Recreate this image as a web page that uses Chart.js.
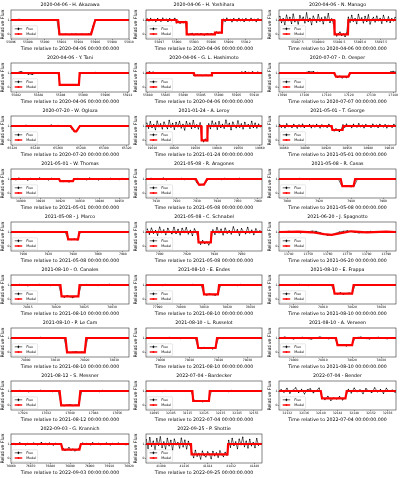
<!DOCTYPE html>
<html><head><meta charset="utf-8">
<script src="https://cdn.jsdelivr.net/npm/chart.js@4.4.0/dist/chart.umd.min.js"></script>
<style>
html,body{margin:0;padding:0;background:#fff;}
body{width:400px;height:478px;overflow:hidden;position:relative;}
canvas{position:absolute;}
</style></head><body>
<script>
const titles = [
 '2020-04-06 - H. Akazawa','2020-04-06 - H. Yoshihara','2020-04-06 - N. Manago',
 '2020-04-06 - Y. Tani','2020-04-06 - G. L. Hashimoto','2020-07-07 - D. Oesper',
 '2020-07-20 - W. Ogloza','2021-01-24 - A. Leroy','2021-05-01 - T. George',
 '2021-05-01 - W. Thomas','2021-05-08 - R. Aragones','2021-05-08 - R. Casas',
 '2021-05-08 - J. Marco','2021-05-08 - C. Schnabel','2021-06-20 - J. Spagnotto',
 '2021-08-10 - O. Canales','2021-08-10 - E. Endes','2021-08-10 - E. Frappa',
 '2021-08-10 - P. Le Cam','2021-08-10 - L. Russelot','2021-08-10 - A. Verveen',
 '2021-08-12 - S. Messner','2022-07-04 - Bardecker','2022-07-04 - Bender',
 '2022-09-03 - G. Krannich','2022-09-25 - P. Shottie'
];
const legendLabels = ['Flux','Model'];

// 01 Akazawa
const p01Ticks=['55896','55898','55900','55902','55904','55906','55908','55910'];
const p01Lim=[55896,55910]; const p01Time=[55896.2,0.25];
const p01Flux=[1.01,0.99,1.03,1.05,1.02,1.00,0.99,1.01,0.98,1.00,1.02,0.99,1.00,0.98,1.01,0.99,1.02,1.00,0.97,1.01,0.99,1.00,0.02,0.00,-0.01,0.01,0.00,-0.02,0.01,0.00,0.02,-0.01,0.00,0.01,-0.01,0.00,0.02,0.05,0.55,0.97,1.02,1.00,0.99,1.01,0.98,1.00,1.01,0.99,1.00,1.02,0.99,1.00,1.01,0.98,1.00,1.01];
const p01MT=[55896,55901.6,55901.75,55905.5,55906.0,55910]; const p01MF=[1,1,0,0,1,1];
// 02 Yoshihara
const p02Ticks=['55897','55900','55903','55906','55909','55912'];
const p02Lim=[55894.7,55914.8]; const p02Time=[55894.9,0.3];
const p02Flux=[1.08,0.93,1.12,0.96,1.05,0.89,1.10,1.01,0.92,1.14,0.97,1.06,0.90,1.09,0.95,1.03,1.11,0.80,0.93,0.78,0.88,0.82,0.90,0.05,-0.03,0.02,0.06,-0.04,0.01,0.03,-0.02,0.04,0.00,-0.05,0.02,0.05,-0.01,0.03,0.00,0.04,0.15,0.08,0.14,0.10,1.06,0.91,1.13,0.97,1.04,0.88,1.10,0.99,0.93,1.12,0.95,1.07,0.90,1.09,1.02,0.94,1.11,0.96,1.05,0.89,1.08,0.98,1.03];
const p02MT=[55894.7,55900.0,55900.0,55901.7,55901.75,55906.65,55906.65,55907.85,55907.9,55914.8]; const p02MF=[1,1,0.85,0.85,0,0,0.12,0.12,1,1];
// 03 Manago
const p03Ticks=['55887.5','55890.0','55892.5','55895.0','55897.5'];
const p03Lim=[55885.3,55899.3]; const p03Time=[55885.4,0.2];
const p03Flux=[1.25,0.82,1.10,0.70,1.35,0.95,1.18,0.76,1.42,0.88,1.05,0.72,1.30,0.98,1.20,0.80,1.50,0.90,1.12,0.68,1.28,1.02,0.85,1.38,0.92,1.15,0.74,1.22,0.96,1.45,0.83,1.08,0.78,0.10,-0.12,0.05,0.15,-0.08,0.02,-0.15,0.08,1.20,0.85,1.32,0.92,1.10,0.75,1.40,0.98,1.15,0.80,1.25,0.90,1.36,0.72,1.05,1.18,0.86,1.28,0.95,1.12,0.78,1.33,1.00,0.88,1.22,0.83,1.10,0.94,1.18];
const p03MT=[55885.3,55891.9,55891.95,55893.55,55893.6,55899.3]; const p03MF=[1,1,0,0,1,1];
// 04 Tani
const p04Ticks=['55882','55888','55894','55900','55906','55912'];
const p04Lim=[55880.6,55912.4]; const p04Time=[55880.8,0.5];
const p04Flux=[1.00,1.02,0.99,1.01,1.06,1.10,1.04,1.00,0.97,0.92,0.95,0.90,0.96,1.00,1.02,0.99,1.01,1.00,0.98,1.01,1.00,0.99,1.02,1.00,0.99,1.00,0.18,0.16,0.17,0.15,0.18,0.16,0.17,0.16,0.18,0.15,0.17,1.00,1.03,1.01,0.99,1.02,1.00,0.98,1.01,1.04,1.00,0.99,1.01,1.00,0.98,1.02,1.00,0.99,1.01,1.00,1.02,0.99,1.00,1.01,0.98,1.00,1.02,1.00];
const p04MT=[55880.6,55893.5,55893.7,55898.9,55899.1,55912.4]; const p04MF=[1,1,0.17,0.17,1,1];
// 05 Hashimoto
const p05Ticks=['55880','55885','55890','55895','55900','55905','55910'];
const p05Lim=[55879.5,55912.2]; const p05Time=[55879.5,0.5];
const p05Flux=[1.00,1.04,1.08,1.02,1.06,0.99,1.00,1.01,0.99,1.00,1.02,1.00,0.99,1.01,1.00,0.98,1.01,1.00,1.02,0.99,1.00,1.01,0.99,1.00,1.01,1.00,0.99,0.84,0.82,0.85,0.83,0.84,0.82,0.83,0.85,0.82,0.84,0.86,1.00,1.01,0.99,1.00,1.02,1.00,0.99,1.01,1.00,0.99,1.01,1.00,1.03,1.00,0.99,1.02,1.07,1.03,1.09,1.02,1.05,1.00,1.08,1.03,1.00,1.06,1.02,1.00];
const p05MT=[55879.5,55893.0,55893.2,55897.9,55898.1,55912.2]; const p05MF=[1,1,0.83,0.83,1,1];
// 06 Oesper
const p06Ticks=['17090','17100','17110','17120','17130','17140'];
const p06Lim=[17088.5,17141.3]; const p06Time=[17089,1];
const p06Flux=[1.00,1.02,0.98,1.01,0.99,1.03,1.00,0.97,1.02,1.00,1.01,0.99,1.05,1.10,1.07,1.09,1.02,1.04,0.99,1.01,1.00,0.98,1.02,1.00,0.99,0.76,0.70,0.78,0.66,0.74,0.68,0.77,1.00,1.02,0.99,1.01,1.00,1.03,0.98,1.00,1.02,0.99,1.01,1.00,0.97,1.02,1.00,0.99,1.03,1.01,1.08,1.12,1.06];
const p06MT=[17088.5,17113.5,17114.2,17119.8,17120.5,17141.3]; const p06MF=[1,1,0.74,0.74,1,1];
// 07 Ogloza
const p07Ticks=['65220','65240','65260','65280','65300','65320'];
const p07Lim=[65218.8,65322]; const p07Time=[65220,2];
const p07Flux=[1.00,1.02,1.01,0.99,1.00,1.03,1.05,1.01,1.00,0.98,1.02,1.00,0.99,1.01,1.00,1.03,1.02,1.06,1.01,0.99,1.04,1.00,0.98,1.01,1.00,0.97,0.80,0.62,0.64,0.88,1.00,1.01,0.99,1.00,1.02,1.00,0.99,1.01,1.00,1.00,0.98,1.01,1.00,0.99,1.02,1.00,1.01,0.99,1.00,1.01,1.00,0.99];
const p07MT=[65218.8,65271,65274.5,65276,65279,65322]; const p07MF=[1,1,0.62,0.62,1,1];
// 08 Leroy
const p08Ticks=['19010','19020','19030','19040','19050','19060'];
const p08Lim=[19007,19061]; const p08Time=[19007.4,0.8];
const p08Flux=[1.20,0.85,1.30,0.90,1.10,0.75,1.35,0.95,1.15,0.80,1.28,1.00,0.82,1.40,0.92,1.18,0.78,1.25,0.95,1.32,0.86,1.12,0.72,1.30,0.98,1.20,0.84,1.38,0.90,1.08,0.80,1.22,0.05,-0.10,0.08,-0.05,1.15,0.82,1.35,0.95,1.22,0.78,1.30,0.90,1.12,0.85,1.42,0.96,1.18,0.74,1.28,1.02,0.88,1.36,0.92,1.15,0.80,1.25,0.98,1.10,0.84,1.32,0.90,1.20,0.86,1.14,0.95];
const p08MT=[19007,19032.7,19032.9,19035.4,19035.6,19061]; const p08MF=[1,1,0,0,1,1];
// 09 George
const p09Ticks=['38860','38890','38920','38950','38980','39010'];
const p09Lim=[38853,39019.5]; const p09Time=[38854,2.5];
const p09Flux=[1.10,0.92,1.05,0.88,1.15,0.96,1.02,0.90,1.12,0.98,0.86,1.08,0.94,1.14,0.90,1.04,0.97,1.10,0.88,1.06,0.93,1.12,0.99,0.87,1.08,0.95,1.03,0.91,1.11,0.96,0.78,0.66,0.80,0.70,0.62,0.76,1.08,0.92,1.14,0.97,1.05,0.89,1.12,1.00,0.93,1.16,0.95,1.06,0.88,1.10,0.98,1.03,0.91,1.13,0.96,1.07,0.90,1.11,0.99,0.94,1.09,0.87,1.05,1.00,0.92,1.12,0.97];
const p09MT=[38853,38928,38929,38943.5,38944.5,39019.5]; const p09MF=[1,1,0.72,0.72,1,1];
// 10 Thomas
const p10Ticks=['38900','38910','38920','38930','38940','38950'];
const p10Lim=[38895,38955]; const p10Time=[38896,1.5];
const p10Flux=[1.02,0.95,1.06,0.98,1.01,0.93,1.04,1.00,0.96,1.07,0.99,1.03,0.94,1.05,0.98,1.01,0.88,0.82,0.86,0.80,0.87,1.00,1.04,0.97,1.02,0.95,1.06,0.99,1.01,0.94,1.03,1.00,0.97,1.05,0.98,1.02,0.96,1.04,1.00];
const p10MT=[38895,38919.5,38920,38926.5,38927,38955]; const p10MF=[1,1,0.85,0.85,1,1];
// 11 Aragones
const p11Ticks=['7910','7920','7930','7940','7950','7960'];
const p11Lim=[7905,7962]; const p11Time=[7906,1.5];
const p11Flux=[1.00,1.05,0.97,1.02,0.99,1.06,0.95,1.01,1.03,0.98,1.00,1.04,0.96,1.02,0.99,1.01,0.75,0.58,0.62,0.80,1.00,1.03,0.98,1.01,0.96,1.04,1.00,0.99,1.02,0.97,1.05,1.00,0.98,1.01,1.03,0.99,1.00];
const p11MT=[7905,7929.5,7931,7933.5,7935,7962]; const p11MF=[1,1,0.6,0.6,1,1];
// 12 Casas
const p12Ticks=['7900','7920','7940','7960'];
const p12Lim=[7895,7968]; const p12Time=[7896,2];
const p12Flux=[1.00,1.03,0.98,1.02,0.97,1.01,1.04,0.99,1.00,0.96,1.02,1.00,0.98,1.03,1.01,0.99,1.02,0.97,1.00,0.55,0.48,0.52,0.46,0.54,1.00,1.02,0.98,1.01,1.03,0.99,1.00,0.97,1.02,1.00,0.99,1.01];
const p12MT=[7895,7933.5,7934.5,7941.5,7942.5,7968]; const p12MF=[1,1,0.5,0.5,1,1];
// 13 Marco
const p13Ticks=['7900','7920','7940','7960','7980'];
const p13Lim=[7890,7985]; const p13Time=[7891,2.5];
const p13Flux=[1.01,0.98,1.03,1.00,0.97,1.02,0.99,1.04,1.00,0.98,1.01,1.03,0.99,1.00,0.97,1.02,1.00,0.99,0.52,0.47,0.50,0.45,1.00,1.02,0.98,1.01,1.03,0.99,1.00,0.97,1.02,1.00,0.98,1.03,1.01,0.99,1.00,1.02];
const p13MT=[7890,7935,7936,7944,7945,7985]; const p13MF=[1,1,0.48,0.48,1,1];
// 14 Schnabel
const p14Ticks=['7900','7920','7940','7960'];
const p14Lim=[7890,7975]; const p14Time=[7891,1.5];
const p14Flux=[1.20,0.85,1.28,0.92,1.10,0.78,1.35,0.95,1.15,0.82,1.25,1.00,0.88,1.32,0.90,1.18,0.80,1.26,0.96,1.30,0.86,1.12,0.76,1.22,0.98,0.35,0.15,0.40,0.20,0.30,0.10,0.38,1.15,0.84,1.30,0.94,1.20,0.80,1.28,0.92,1.10,0.86,1.36,0.97,1.16,0.78,1.24,1.02,0.88,1.32,0.93,1.14,0.82,1.22,0.99,1.08];
const p14MT=[7890,7928,7928.5,7937.5,7938,7975]; const p14MF=[1,1,0.28,0.28,1,1];
// 15 Spagnotto
const p15Ticks=['13740','13750','13760','13770','13780','13790'];
const p15Lim=[13735,13795]; const p15Time=[13736,2];
const p15Flux=[1.00,1.02,1.05,1.03,0.98,0.95,0.97,1.02,1.06,1.04,0.96,0.85,0.78,0.80,0.90,1.00,1.05,1.08,1.04,0.98,0.94,0.96,1.01,1.04,1.02,0.99,0.97,1.00,1.03,1.01];
const p15MT=[13735,13745,13752,13758,13762,13766,13772,13780,13790,13795]; const p15MF=[1,1.02,0.98,0.85,0.8,0.9,1.05,0.97,1.02,1.0];
// 16 Canales
const p16Ticks=['78015','78020','78025','78030'];
const p16Lim=[78012,78033]; const p16Time=[78012.5,0.5];
const p16Flux=[1.02,0.97,1.04,0.99,1.01,0.95,1.03,1.00,0.98,1.05,0.97,1.01,1.03,0.96,1.02,0.99,1.00,0.22,0.15,0.25,0.18,0.12,0.20,0.24,1.01,0.98,1.04,0.97,1.02,1.00,0.96,1.03,0.99,1.01,1.05,0.98,1.00,0.97,1.02,1.01,0.99];
const p16MT=[78012,78020.8,78021,78024,78024.2,78033]; const p16MF=[1,1,0.2,0.2,1,1];
// 17 Endes
const p17Ticks=['77990','78000','78010','78020','78030'];
const p17Lim=[77985,78035]; const p17Time=[77986,1.2];
const p17Flux=[1.01,0.97,1.03,0.99,1.02,0.96,1.04,1.00,0.98,1.02,0.99,1.03,0.97,1.01,1.00,0.98,1.04,0.99,1.01,0.97,0.36,0.30,0.38,0.33,0.29,0.37,1.00,1.03,0.98,1.02,0.99,1.01,0.96,1.04,1.00,0.98,1.02,0.99,1.01,1.03,0.98];
const p17MT=[77985,78009.5,78010,78016,78016.5,78035]; const p17MF=[1,1,0.34,0.34,1,1];
// 18 Frappa
const p18Ticks=['78000','78010','78020','78030'];
const p18Lim=[77995,78035]; const p18Time=[77996,1];
const p18Flux=[1.00,1.03,0.98,1.02,0.97,1.01,1.04,0.99,1.00,0.96,1.02,1.00,0.98,1.03,1.01,0.99,1.02,0.97,0.42,0.38,0.45,0.36,0.40,0.44,0.39,1.00,1.02,0.98,1.01,1.03,0.99,1.00,0.97,1.02,1.00,0.99,1.01,1.03,0.98];
const p18MT=[77995,78013.5,78014,78020,78020.5,78035]; const p18MF=[1,1,0.4,0.4,1,1];
// 19 Le Cam
const p19Ticks=['78000','78010','78020','78030'];
const p19Lim=[77995,78035]; const p19Time=[77996,1];
const p19Flux=[1.02,0.98,1.03,0.99,1.01,0.97,1.02,1.00,0.98,1.04,0.99,1.01,0.97,1.02,1.00,0.98,1.03,1.00,0.03,-0.02,0.01,0.04,-0.01,0.02,0.00,0.99,1.02,1.00,0.97,1.03,1.01,0.98,1.00,1.02,0.99,1.01,0.97,1.02,1.00];
const p19MT=[77995,78013.5,78014,78020,78020.5,78035]; const p19MF=[1,1,0,0,1,1];
// 20 Russelot
const p20Ticks=['78000','78010','78020','78030'];
const p20Lim=[77995,78035]; const p20Time=[77996,1];
const p20Flux=[1.01,0.98,1.03,0.97,1.02,1.00,0.99,1.04,0.98,1.01,1.00,0.96,1.03,0.99,1.02,1.00,0.98,0.32,0.26,0.35,0.28,0.30,0.24,0.33,1.00,1.02,0.97,1.01,1.03,0.99,1.00,0.98,1.02,1.01,0.97,1.03,1.00,0.99,1.01];
const p20MT=[77995,78012.5,78013,78019,78019.5,78035]; const p20MF=[1,1,0.3,0.3,1,1];
// 21 Verveen
const p21Ticks=['78000','78010','78020','78030'];
const p21Lim=[77995,78035]; const p21Time=[77996,1];
const p21Flux=[1.03,1.06,1.02,0.97,0.94,0.98,1.02,1.05,1.01,0.96,0.93,0.97,1.03,1.07,1.02,0.98,0.95,0.99,1.02,0.55,0.48,0.52,0.45,0.50,0.56,1.00,1.04,1.06,1.01,0.96,0.94,0.99,1.03,1.05,1.00,0.97,0.95,1.00,1.03];
const p21MT=[77995,78014.5,78015,78020,78020.5,78035]; const p21MF=[1,1,0.5,0.5,1,1];
// 22 Messner
const p22Ticks=['17024','17032','17040','17048','17056'];
const p22Lim=[17020,17060]; const p22Time=[17021,1];
const p22Flux=[1.02,0.97,1.04,0.99,1.01,0.95,1.03,1.00,0.98,1.05,0.97,1.01,1.02,0.96,1.03,0.99,0.04,-0.03,0.02,0.05,-0.02,0.01,0.03,1.01,0.98,1.03,0.97,1.02,1.00,0.96,1.04,0.99,1.01,1.03,0.98,1.00,0.97,1.02,1.00];
const p22MT=[17020,17036.5,17037,17043,17043.5,17060]; const p22MF=[1,1,0,0,1,1];
// 23 Bardecker
const p23Ticks=['32095','32105','32115','32125','32135','32145','32155'];
const p23Lim=[32090,32160]; const p23Time=[32091,1.75];
const p23Flux=[1.01,0.97,1.03,0.99,1.02,0.96,1.04,1.00,0.98,1.02,0.99,1.03,0.97,1.01,1.00,0.98,0.35,0.28,0.32,0.25,0.30,0.34,1.00,1.03,0.98,1.02,0.99,1.01,0.96,1.04,1.00,0.98,1.02,0.99,1.01,1.03,0.98,1.00,0.97,1.02];
const p23MT=[32090,32118,32118.5,32128,32128.5,32160]; const p23MF=[1,1,0.3,0.3,1,1];
// 24 Bender
const p24Ticks=['32132','32136','32140','32144','32148','32152','32156'];
const p24Lim=[32130,32158]; const p24Time=[32130.5,0.7];
const p24Flux=[1.10,0.92,1.18,0.85,1.05,1.22,0.90,1.12,0.80,1.08,1.15,0.88,1.02,1.20,0.55,0.40,0.62,0.35,0.50,0.45,0.60,0.38,0.52,1.12,0.86,1.20,0.95,1.08,0.82,1.16,1.00,0.90,1.22,0.94,1.10,0.84,1.18,0.98,1.06,0.92];
const p24MT=[32130,32140,32140.3,32145.9,32146.2,32158]; const p24MF=[1,1,0.48,0.48,1,1];
// 25 Krannich
const p25Ticks=['76860','76870','76880','76890','76900','76910','76920'];
const p25Lim=[76860,76920]; const p25Time=[76860.5,1];
const p25Flux=[1.00,1.04,0.96,1.02,1.08,0.98,1.01,0.94,1.05,1.00,0.97,1.06,1.02,0.95,1.03,1.10,0.99,1.04,0.96,1.07,1.01,0.93,1.05,1.00,0.98,1.02,0.68,0.55,0.62,0.75,0.58,0.64,0.52,0.60,0.66,1.02,1.06,0.97,1.04,1.00,0.95,1.08,1.01,0.98,1.05,0.96,1.03,1.00,1.07,0.99,0.94,1.04,1.01,0.97,1.06,1.00,0.98,1.03,0.95,1.02];
const p25MT=[76860,76885.5,76886.2,76894.8,76895.5,76920]; const p25MF=[1,1,0.6,0.6,1,1];
// 26 Shottie
const p26Ticks=['41408','41416','41424','41432','41440'];
const p26Lim=[41402.9,41442.6]; const p26Time=[41403,0.6];
const p26Flux=[1.30,0.70,1.45,0.85,1.20,0.60,1.38,0.92,1.50,0.75,1.15,0.65,1.40,0.88,1.25,0.58,1.35,0.95,1.10,0.72,1.42,0.80,1.28,0.66,1.18,0.90,0.40,0.05,0.55,0.15,0.35,-0.05,0.50,0.20,0.10,0.45,0.30,-0.02,0.48,0.18,0.38,0.08,0.52,0.25,0.12,0.42,0.22,1.25,0.78,1.40,0.90,1.15,0.68,1.35,0.95,1.48,0.82,1.20,0.72,1.32,0.88,1.10,0.75,1.38,0.92,1.05];
const p26MT=[41402.9,41418.3,41418.5,41430.8,41431,41442.6]; const p26MF=[1,1,0.27,0.27,1,1];

const yLim=[-0.33,1.7];
const yTicks=[0,1];

const panels=[
 [p01Ticks,p01Lim,p01Time,p01Flux,p01MT,p01MF],[p02Ticks,p02Lim,p02Time,p02Flux,p02MT,p02MF],[p03Ticks,p03Lim,p03Time,p03Flux,p03MT,p03MF],
 [p04Ticks,p04Lim,p04Time,p04Flux,p04MT,p04MF],[p05Ticks,p05Lim,p05Time,p05Flux,p05MT,p05MF],[p06Ticks,p06Lim,p06Time,p06Flux,p06MT,p06MF],
 [p07Ticks,p07Lim,p07Time,p07Flux,p07MT,p07MF],[p08Ticks,p08Lim,p08Time,p08Flux,p08MT,p08MF],[p09Ticks,p09Lim,p09Time,p09Flux,p09MT,p09MF],
 [p10Ticks,p10Lim,p10Time,p10Flux,p10MT,p10MF],[p11Ticks,p11Lim,p11Time,p11Flux,p11MT,p11MF],[p12Ticks,p12Lim,p12Time,p12Flux,p12MT,p12MF],
 [p13Ticks,p13Lim,p13Time,p13Flux,p13MT,p13MF],[p14Ticks,p14Lim,p14Time,p14Flux,p14MT,p14MF],[p15Ticks,p15Lim,p15Time,p15Flux,p15MT,p15MF],
 [p16Ticks,p16Lim,p16Time,p16Flux,p16MT,p16MF],[p17Ticks,p17Lim,p17Time,p17Flux,p17MT,p17MF],[p18Ticks,p18Lim,p18Time,p18Flux,p18MT,p18MF],
 [p19Ticks,p19Lim,p19Time,p19Flux,p19MT,p19MF],[p20Ticks,p20Lim,p20Time,p20Flux,p20MT,p20MF],[p21Ticks,p21Lim,p21Time,p21Flux,p21MT,p21MF],
 [p22Ticks,p22Lim,p22Time,p22Flux,p22MT,p22MF],[p23Ticks,p23Lim,p23Time,p23Flux,p23MT,p23MF],[p24Ticks,p24Lim,p24Time,p24Flux,p24MT,p24MF],
 [p25Ticks,p25Lim,p25Time,p25Flux,p25MT,p25MF],[p26Ticks,p26Lim,p26Time,p26Flux,p26MT,p26MF]
];

const FONT='DejaVu Sans';
const framePlugin={id:'frame',afterDatasetsDraw(c){const a=c.chartArea,x=c.ctx;x.save();x.strokeStyle='#333';x.lineWidth=0.6;x.strokeRect(a.left,a.top,a.right-a.left,a.bottom-a.top);x.restore();}};
const legendPlugin={id:'lbox',afterDraw(c){
  const a=c.chartArea,ctx=c.ctx;
  ctx.save();
  ctx.font='3.3px "'+FONT+'"';
  const items=[c.data.datasets[1],c.data.datasets[0]];
  let tw=0;items.forEach(d=>{tw=Math.max(tw,ctx.measureText(d.label).width);});
  const bw=14+tw+1.5,bh=12,bx=a.left+1.2,by=a.bottom-1.2-bh;
  ctx.fillStyle='rgba(255,255,255,0.85)';ctx.strokeStyle='#d0d0d0';ctx.lineWidth=0.5;
  ctx.beginPath();ctx.roundRect(bx,by,bw,bh,1);ctx.fill();ctx.stroke();
  items.forEach((d,k)=>{
    const y=by+3+k*5.2;
    ctx.strokeStyle=d.borderColor;ctx.lineWidth=k===0?0.6:1.4;
    ctx.beginPath();ctx.moveTo(bx+2.5,y);ctx.lineTo(bx+10,y);ctx.stroke();
    if(k===0){ctx.beginPath();ctx.moveTo(bx+6.25,y-1.4);ctx.lineTo(bx+6.25,y+1.4);ctx.stroke();}
    ctx.fillStyle=d.borderColor;ctx.beginPath();ctx.arc(bx+6.25,y,0.9,0,Math.PI*2);ctx.fill();
    ctx.fillStyle='#000';ctx.textBaseline='middle';ctx.textAlign='left';
    ctx.fillText(d.label,bx+14,y);
  });
  ctx.restore();
}};

const cellX=[0,133,267], plotL=[11,13,12], W=134, H=53, plotR=129;
panels.forEach((p,idx)=>{
  const [xt,xl,tm,fl,mt,mf]=p;
  const col=idx%3,row=Math.floor(idx/3);
  const cv=document.createElement('canvas');
  cv.width=W;cv.height=H;cv.style.left=cellX[col]+'px';cv.style.top=(row*53)+'px';
  document.body.appendChild(cv);
  const title=titles[idx];
  const flux=fl.map((v,i)=>({x:tm[0]+i*tm[1],y:v}));
  const model=mt.map((t,i)=>({x:t,y:mf[i]}));
  const axFont={family:FONT,size:3};
  const lblFont={family:FONT,size:4.7};
  new Chart(cv,{
    type:'line',
    data:{datasets:[
      {label:legendLabels[1],data:model,borderColor:'#ff0000',backgroundColor:'#ff0000',borderWidth:2.2,pointRadius:0,tension:0},
      {label:legendLabels[0],data:flux,borderColor:'#000000',backgroundColor:'#000000',borderWidth:0.6,pointRadius:0.6,pointBorderWidth:0,pointBackgroundColor:'#000',tension:0}
    ]},
    options:{
      responsive:false,animation:false,devicePixelRatio:1,events:[],
      layout:{padding:{left:0,right:W-plotR,top:0,bottom:0}},
      plugins:{legend:{display:false},tooltip:{enabled:false},
        title:{display:true,text:title,fullSize:false,color:'#000',font:{family:FONT,size:4.7,weight:'normal'},padding:{top:2,bottom:2.36}}},
      scales:{
        x:{type:'linear',min:xl[0],max:xl[1],
          afterBuildTicks:s=>{s.ticks=xt.map(v=>({value:parseFloat(v)}));},
          afterFit:s=>{s.height=14;s.paddingLeft=0;s.paddingRight=0;},
          ticks:{autoSkip:false,maxRotation:0,minRotation:0,padding:0,color:'#000',font:axFont,callback:(v,i)=>xt[i]},
          grid:{drawOnChartArea:false,drawTicks:true,tickLength:1.2,color:'#000',lineWidth:0.4},
          border:{display:false},
          title:{display:true,text:'Time relative to '+title.slice(0,10)+' 00:00:00.000',color:'#000',font:lblFont,padding:{top:0,bottom:1.2}}
        },
        y:{type:'linear',min:yLim[0],max:yLim[1],
          afterBuildTicks:s=>{s.ticks=yTicks.map(v=>({value:v}));},
          afterFit:s=>{s.width=plotL[col];s.paddingTop=0;s.paddingBottom=0;},
          ticks:{padding:0.3,color:'#000',font:axFont,callback:v=>String(v)},
          grid:{drawOnChartArea:false,drawTicks:true,tickLength:1.2,color:'#000',lineWidth:0.4},
          border:{display:false},
          title:{display:true,text:'Relative Flux',color:'#000',font:lblFont,padding:{top:0.4,bottom:0}}
        }
      }
    },
    plugins:[framePlugin,legendPlugin]
  });
});
</script>
</body></html>
